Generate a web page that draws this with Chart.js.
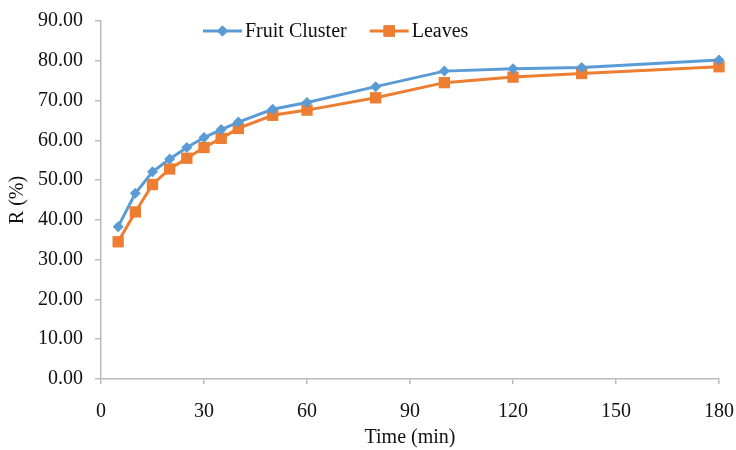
<!DOCTYPE html>
<html>
<head>
<meta charset="utf-8">
<script src="https://cdn.jsdelivr.net/npm/chart.js@4.4.1/dist/chart.umd.min.js"></script>
<style>
    html, body { margin: 0; padding: 0; background: #fff; }
    #chart { display: block; }
</style>
</head>
<body>
<canvas id="chart" width="736" height="450"></canvas>
<script>
// Time in minutes
const times = [5, 10, 15, 20, 25, 30, 35, 40, 50, 60, 80, 100, 120, 140, 180];
// R (%) per series
const fruitCluster = [38.3, 46.7, 52.1, 55.3, 58.2, 60.7, 62.7, 64.6, 67.8, 69.5, 73.5, 77.4, 78.0, 78.3, 80.2];
const leaves = [34.5, 42.0, 48.9, 52.8, 55.5, 58.2, 60.5, 63.0, 66.3, 67.6, 70.7, 74.5, 75.9, 76.8, 78.5];
const seriesNames = ['Fruit Cluster', 'Leaves'];
const xTicks = [0, 30, 60, 90, 120, 150, 180];
const yTicks = [0, 10, 20, 30, 40, 50, 60, 70, 80, 90];

const FONT = 'Liberation Serif, Times New Roman, serif';
const AXIS_COLOR = '#BBBBBB';
const TEXT_COLOR = '#111';

function toPoints(values) {
    return times.map(function (t, i) { return { x: t, y: values[i] }; });
}

// Legend drawn inside the plot area, Excel style (line + marker + label)
const insideLegend = {
    id: 'insideLegend',
    afterDraw: function (chart, args, opts) {
        const ctx = chart.ctx;
        let x = opts.x;
        const y = opts.y;
        ctx.save();
        ctx.font = opts.fontSize + 'px ' + FONT;
        ctx.textBaseline = 'middle';
        chart.data.datasets.forEach(function (ds) {
            ctx.strokeStyle = ds.borderColor;
            ctx.lineWidth = ds.borderWidth;
            ctx.beginPath();
            ctx.moveTo(x, y);
            ctx.lineTo(x + opts.lineLength, y);
            ctx.stroke();
            ctx.fillStyle = ds.pointBackgroundColor;
            Chart.helpers.drawPoint(ctx, {
                pointStyle: ds.pointStyle,
                radius: ds.pointRadius,
                rotation: 0,
                borderWidth: 0
            }, x + opts.lineLength / 2, y);
            ctx.fill();
            ctx.fillStyle = TEXT_COLOR;
            const tx = x + opts.lineLength + opts.textGap;
            ctx.fillText(ds.label, tx, y + 1);
            x = tx + ctx.measureText(ds.label).width + opts.itemGap;
        });
        ctx.restore();
    }
};

const ctx = document.getElementById('chart');

new Chart(ctx, {
    type: 'line',
    data: {
        datasets: [{
            label: seriesNames[0],
            data: toPoints(fruitCluster),
            borderColor: '#5B9BD5',
            backgroundColor: '#5B9BD5',
            pointBackgroundColor: '#5B9BD5',
            pointBorderColor: '#5B9BD5',
            pointStyle: 'rectRot',
            pointRadius: 5.5,
            pointBorderWidth: 0,
            borderWidth: 3,
            tension: 0,
            clip: false
        }, {
            label: seriesNames[1],
            data: toPoints(leaves),
            borderColor: '#ED7D31',
            backgroundColor: '#ED7D31',
            pointBackgroundColor: '#ED7D31',
            pointBorderColor: '#ED7D31',
            pointStyle: 'rect',
            pointRadius: 8,
            pointBorderWidth: 0,
            borderWidth: 3,
            tension: 0,
            clip: false
        }]
    },
    options: {
        responsive: false,
        animation: false,
        layout: {
            padding: { top: 21, right: 17, bottom: 0, left: 0 }
        },
        plugins: {
            legend: { display: false },
            tooltip: { enabled: false },
            insideLegend: {
                x: 203,
                y: 31,
                lineLength: 39,
                textGap: 3,
                itemGap: 23,
                fontSize: 20
            }
        },
        scales: {
            x: {
                type: 'linear',
                min: 0,
                max: 180,
                afterBuildTicks: function (scale) {
                    scale.ticks = xTicks.map(function (v) { return { value: v }; });
                },
                afterFit: function (scale) {
                    scale.height = 71;
                    scale.paddingLeft = 0;
                    scale.paddingRight = 0;
                },
                border: { color: AXIS_COLOR, width: 1.5 },
                grid: {
                    drawOnChartArea: false,
                    drawTicks: true,
                    tickLength: 5,
                    color: AXIS_COLOR,
                    lineWidth: 1.5
                },
                ticks: {
                    color: TEXT_COLOR,
                    font: { family: FONT, size: 20 },
                    padding: 16,
                    maxRotation: 0
                },
                title: {
                    display: true,
                    text: 'Time (min)',
                    color: TEXT_COLOR,
                    font: { family: FONT, size: 20 },
                    padding: { top: 0, bottom: 0 }
                }
            },
            y: {
                min: 0,
                max: 90,
                afterBuildTicks: function (scale) {
                    scale.ticks = yTicks.map(function (v) { return { value: v }; });
                },
                afterFit: function (scale) {
                    scale.width = 101;
                    scale.paddingTop = 0;
                    scale.paddingBottom = 0;
                },
                border: { color: AXIS_COLOR, width: 1.5 },
                grid: {
                    drawOnChartArea: false,
                    drawTicks: true,
                    tickLength: 6,
                    color: AXIS_COLOR,
                    lineWidth: 1.5
                },
                ticks: {
                    color: TEXT_COLOR,
                    font: { family: FONT, size: 20 },
                    padding: 12,
                    callback: function (v) { return v.toFixed(2); }
                },
                title: {
                    display: true,
                    text: 'R (%)',
                    color: TEXT_COLOR,
                    font: { family: FONT, size: 20 },
                    padding: { top: 6, bottom: 0 }
                }
            }
        }
    },
    plugins: [insideLegend]
});
</script>
</body>
</html>
